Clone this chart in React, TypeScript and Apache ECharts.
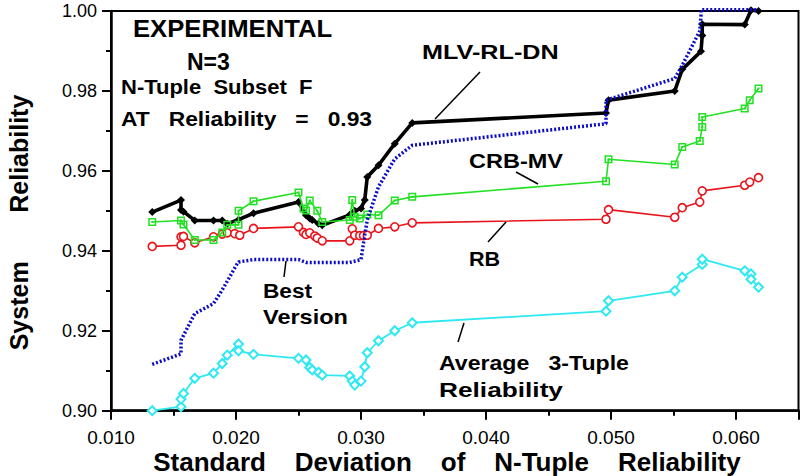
import React, { useEffect, useRef } from "react";
import * as echarts from "echarts";

const FONT = "'Liberation Sans', Arial, Helvetica, sans-serif";

// Average 3-Tuple Reliability (cyan)
const avgX = [0.0133, 0.0156, 0.0156, 0.0158, 0.0167, 0.0182, 0.0189, 0.0193, 0.0202, 0.0202, 0.0214, 0.0250, 0.0256, 0.0259, 0.0261, 0.0266, 0.0269, 0.0291, 0.0293, 0.0295, 0.0300, 0.0303, 0.0305, 0.0314, 0.0327, 0.0341, 0.0496, 0.0498, 0.0551, 0.0557, 0.0573, 0.0573, 0.0607, 0.0612, 0.0612, 0.0618];
const avgY = [0.9000, 0.9010, 0.9029, 0.9043, 0.9081, 0.9094, 0.9118, 0.9139, 0.9167, 0.9150, 0.9141, 0.9131, 0.9127, 0.9108, 0.9102, 0.9096, 0.9089, 0.9087, 0.9074, 0.9064, 0.9074, 0.9110, 0.9145, 0.9175, 0.9200, 0.9220, 0.9249, 0.9275, 0.9300, 0.9334, 0.9366, 0.9379, 0.9350, 0.9342, 0.9329, 0.9309];

// RB (red)
const rbX = [0.0133, 0.0156, 0.0156, 0.0158, 0.0167, 0.0182, 0.0189, 0.0193, 0.0199, 0.0203, 0.0214, 0.0250, 0.0254, 0.0256, 0.0259, 0.0263, 0.0265, 0.0269, 0.0291, 0.0293, 0.0295, 0.0299, 0.0302, 0.0305, 0.0314, 0.0327, 0.0341, 0.0496, 0.0498, 0.0551, 0.0557, 0.0571, 0.0573, 0.0607, 0.0611, 0.0618];
const rbY = [0.9411, 0.9414, 0.9435, 0.9436, 0.9420, 0.9435, 0.9442, 0.9445, 0.9443, 0.9439, 0.9456, 0.9460, 0.9446, 0.9441, 0.9445, 0.9437, 0.9432, 0.9425, 0.9425, 0.9455, 0.9439, 0.9438, 0.9438, 0.9439, 0.9456, 0.9460, 0.9470, 0.9479, 0.9503, 0.9484, 0.9508, 0.9522, 0.9550, 0.9564, 0.9572, 0.9583];

// CRB-MV (green)
const crbX = [0.0133, 0.0156, 0.0158, 0.0167, 0.0182, 0.0189, 0.0193, 0.0202, 0.0202, 0.0214, 0.0250, 0.0254, 0.0256, 0.0259, 0.0265, 0.0269, 0.0291, 0.0293, 0.0295, 0.0299, 0.0305, 0.0314, 0.0327, 0.0341, 0.0496, 0.0498, 0.0551, 0.0557, 0.0571, 0.0573, 0.0573, 0.0607, 0.0611, 0.0618];
const crbY = [0.9472, 0.9476, 0.9466, 0.9427, 0.9427, 0.9446, 0.9465, 0.9465, 0.9500, 0.9524, 0.9546, 0.9506, 0.9501, 0.9526, 0.9500, 0.9472, 0.9477, 0.9527, 0.9485, 0.9481, 0.9491, 0.9489, 0.9526, 0.9535, 0.9574, 0.9629, 0.9616, 0.9660, 0.9675, 0.9710, 0.9735, 0.9756, 0.9777, 0.9806];

// MLV-RL-DN (black)
const mlvX = [0.0133, 0.0156, 0.0156, 0.0158, 0.0167, 0.0182, 0.0189, 0.0193, 0.0202, 0.0214, 0.0250, 0.0256, 0.0259, 0.0261, 0.0266, 0.0269, 0.0291, 0.0295, 0.0300, 0.0303, 0.0305, 0.0314, 0.0327, 0.0341, 0.0496, 0.0498, 0.0551, 0.0557, 0.0572, 0.0573, 0.0573, 0.0607, 0.0612, 0.0618];
const mlvY = [0.9497, 0.9527, 0.9502, 0.9498, 0.9476, 0.9476, 0.9476, 0.9468, 0.9478, 0.9494, 0.9522, 0.9489, 0.9481, 0.9477, 0.9468, 0.9464, 0.9490, 0.9500, 0.9506, 0.9527, 0.9585, 0.9614, 0.9668, 0.9720, 0.9745, 0.9777, 0.9800, 0.9854, 0.9899, 0.9939, 0.9967, 0.9966, 1.0002, 1.0000];

// Best Version (blue dotted)
const bestX = [0.0133, 0.0156, 0.0156, 0.0167, 0.0182, 0.0189, 0.0201, 0.0202, 0.0214, 0.0250, 0.0256, 0.0291, 0.0300, 0.0303, 0.0305, 0.0314, 0.0327, 0.0341, 0.0496, 0.0496, 0.0551, 0.0557, 0.0571, 0.0572, 0.0572, 0.0618];
const bestY = [0.9116, 0.9142, 0.9176, 0.9243, 0.9268, 0.9302, 0.9368, 0.9372, 0.9378, 0.9378, 0.9371, 0.9371, 0.9378, 0.9440, 0.9477, 0.9560, 0.9630, 0.9664, 0.9718, 0.9777, 0.9831, 0.9864, 0.9950, 0.9989, 1.0003, 1.0003];

const pts = (xs: number[], ys: number[]) => xs.map((x, i) => [x, ys[i]]);

const GREEN = "#22e022";
const RED = "#e8141c";
const CYAN = "#2ee8f2";
const BLUE = "#0c0cc8";

const SQUARE_DOT = "path://M0,0H16V16H0Z M3,3V13H13V3Z M6,6H10V10H6Z";

function txt(text: string, x: number, y: number, size: number, scaleX = 1, align = "left") {
  return {
    type: "text",
    x,
    y,
    scaleX,
    style: {
      text,
      fill: "#000",
      font: `bold ${size}px ${FONT}`,
      textAlign: align,
      textVerticalAlign: "middle",
    },
    z: 100,
  };
}

function leader(x1: number, y1: number, x2: number, y2: number) {
  return {
    type: "line",
    shape: { x1, y1, x2, y2 },
    style: { stroke: "#000", lineWidth: 1.5 },
    z: 100,
  };
}

export default function App() {
  const ref = useRef<HTMLDivElement>(null);
  useEffect(() => {
    document.body.style.margin = "0";
    if (!ref.current) return;
    const chart = echarts.init(ref.current, undefined, { renderer: "svg" });
    const tickStyle = { color: "#000", width: 2 };
    chart.setOption({
      animation: false,
      backgroundColor: "#fff",
      grid: {
        left: 111,
        top: 11,
        right: 9.5,
        bottom: 65.3,
        show: true,
        borderColor: "#000",
        borderWidth: 2,
        backgroundColor: "transparent",
      },
      xAxis: {
        type: "value",
        min: 0.01,
        max: 0.065,
        interval: 0.01,
        axisLine: { show: true, onZero: false, lineStyle: { color: "#000", width: 2.5 } },
        axisTick: { show: true, length: 9, lineStyle: tickStyle },
        minorTick: { show: true, splitNumber: 2, length: 5, lineStyle: tickStyle },
        splitLine: { show: false },
        minorSplitLine: { show: false },
        axisLabel: {
          formatter: (v: number) => v.toFixed(3),
          margin: 17,
          fontSize: 19,
          color: "#000",
          fontFamily: FONT,
          showMaxLabel: false,
        },
      },
      yAxis: {
        type: "value",
        min: 0.9,
        max: 1.0,
        interval: 0.02,
        axisLine: { show: true, onZero: false, lineStyle: { color: "#000", width: 2.5 } },
        axisTick: { show: true, length: 9, lineStyle: tickStyle },
        minorTick: { show: true, splitNumber: 2, length: 5, lineStyle: tickStyle },
        splitLine: { show: false },
        minorSplitLine: { show: false },
        axisLabel: {
          formatter: (v: number) => v.toFixed(2),
          margin: 14,
          fontSize: 18,
          color: "#000",
          fontFamily: FONT,
        },
      },
      series: [
        {
          name: "Average 3-Tuple Reliability",
          type: "line",
          data: pts(avgX, avgY),
          clip: false,
          symbol: "diamond",
          symbolSize: 9,
          lineStyle: { color: CYAN, width: 1.8 },
          itemStyle: { color: "#fff", borderColor: CYAN, borderWidth: 2 },
          z: 2,
        },
        {
          name: "RB",
          type: "line",
          data: pts(rbX, rbY),
          clip: false,
          symbol: "circle",
          symbolSize: 8,
          lineStyle: { color: RED, width: 1.6 },
          itemStyle: { color: "#fff", borderColor: RED, borderWidth: 1.6 },
          z: 3,
        },
        {
          name: "MLV-RL-DN",
          type: "line",
          data: pts(mlvX, mlvY),
          clip: false,
          symbol: "diamond",
          symbolSize: 8,
          lineStyle: { color: "#000", width: 3.6 },
          itemStyle: { color: "#000" },
          z: 4,
        },
        {
          name: "CRB-MV",
          type: "line",
          data: pts(crbX, crbY),
          clip: false,
          symbol: SQUARE_DOT,
          symbolSize: 8,
          lineStyle: { color: GREEN, width: 1.6 },
          itemStyle: { color: GREEN },
          z: 5,
        },
        {
          name: "Best Version",
          type: "line",
          data: pts(bestX, bestY),
          clip: false,
          showSymbol: false,
          symbol: "none",
          lineStyle: { color: BLUE, width: 3.5, type: [2, 2], cap: "butt" },
          z: 6,
        },
      ],
      graphic: [
        txt("EXPERIMENTAL", 133, 29, 24, 1.07),
        txt("N=3", 187, 62, 23, 1.0),
        txt("N-Tuple  Subset  F", 121, 87, 20, 1.1),
        txt("AT   Reliability   =   0.93", 121, 119, 20, 1.14),
        txt("MLV-RL-DN", 422, 52, 21, 1.2),
        leader(480, 72, 435, 119),
        txt("CRB-MV", 469, 161, 21, 1.12),
        leader(516, 172, 538, 184),
        txt("RB", 469, 259, 21, 1.03),
        leader(506, 222, 488, 242),
        txt("Best", 263, 291, 21, 1.08),
        txt("Version", 263, 317, 21, 1.12),
        leader(286, 261, 284, 277),
        txt("Average   3-Tuple", 439, 363, 21, 1.1),
        txt("Reliability", 439, 389, 21, 1.25),
        leader(464, 323, 458, 342),
        txt("Standard    Deviation    of    N-Tuple    Reliability", 447, 462, 26, 1.0, "center"),
        {
          type: "text",
          x: 19,
          y: 222.5,
          rotation: Math.PI / 2,
          style: {
            text: "System       Reliability",
            fill: "#000",
            font: `bold 25px ${FONT}`,
            textAlign: "center",
            textVerticalAlign: "middle",
          },
          z: 100,
        },
      ],
    });
    return () => chart.dispose();
  }, []);
  return <div ref={ref} style={{ width: 808, height: 476 }} />;
}
